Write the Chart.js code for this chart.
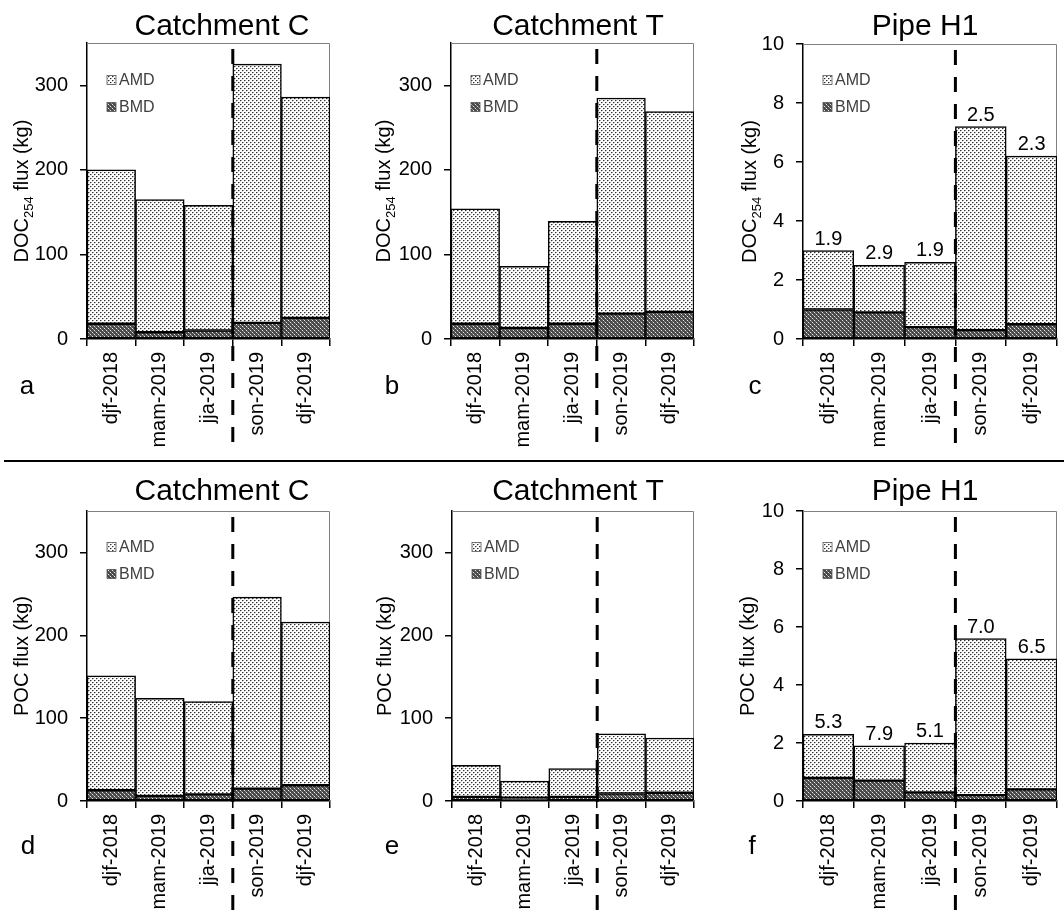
<!DOCTYPE html>
<html>
<head>
<meta charset="utf-8">
<script src="https://cdn.jsdelivr.net/npm/chart.js@4.4.1/dist/chart.umd.min.js"></script>
<style>
  body { margin: 0; background: #fff; }
  #wrap { position: relative; width: 1064px; height: 910px; overflow: hidden; }
  canvas { position: absolute; }
  #sep { position: absolute; left: 4px; top: 460px; width: 1060px; height: 2px; background: #000; }
</style>
</head>
<body>
<div id="wrap">
  <canvas id="pa" width="355" height="460" style="left:0;top:0"></canvas>
  <canvas id="pb" width="355" height="460" style="left:355px;top:0"></canvas>
  <canvas id="pc" width="354" height="460" style="left:710px;top:0"></canvas>
  <div id="sep"></div>
  <canvas id="pd" width="355" height="448" style="left:0;top:462px"></canvas>
  <canvas id="pe" width="355" height="448" style="left:355px;top:462px"></canvas>
  <canvas id="pf" width="354" height="448" style="left:710px;top:462px"></canvas>
</div>
<script>
const seasons = ['djf-2018', 'mam-2019', 'jja-2019', 'son-2019', 'djf-2019'];

// DOC254 flux (kg)
const docC_AMD = [182, 157, 148, 306, 261];
const docC_BMD = [18, 8, 10, 19, 25];
const docT_AMD = [136, 73, 121, 255, 237];
const docT_BMD = [18, 13, 18, 30, 32];
const docP_AMD = [2.0, 1.6, 2.2, 6.9, 5.7];
const docP_BMD = [1.0, 0.9, 0.4, 0.3, 0.5];
const docP_notes = ['1.9', '2.9', '1.9', '2.5', '2.3'];

// POC flux (kg)
const pocC_AMD = [138, 118, 112, 231, 197];
const pocC_BMD = [13, 6, 8, 15, 19];
const pocT_AMD = [38, 20, 34, 72, 66];
const pocT_BMD = [5, 4, 5, 9, 10];
const pocP_AMD = [1.5, 1.2, 1.7, 5.4, 4.5];
const pocP_BMD = [0.8, 0.7, 0.3, 0.2, 0.4];
const pocP_notes = ['5.3', '7.9', '5.1', '7.0', '6.5'];

const catchTicks = [0, 100, 200, 300];
const pipeTicks = [0, 2, 4, 6, 8, 10];

const FONT = '"Liberation Sans", Arial, sans-serif';
Chart.defaults.font.family = FONT;
Chart.defaults.color = '#000';

// dotted fills
function pattern(bg, dots) {
    const c = document.createElement('canvas');
    c.width = 4; c.height = 4;
    const g = c.getContext('2d');
    g.fillStyle = bg; g.fillRect(0, 0, 4, 4);
    dots.forEach(([x, y, col]) => { g.fillStyle = col; g.fillRect(x, y, 1, 1); });
    return g.createPattern(c, 'repeat');
}
const amdFill = pattern('#fff', [[0, 0, '#303030'], [2, 2, '#303030'], [1, 0, '#a0a0a0'], [3, 2, '#a0a0a0'], [0, 1, '#d8d8d8'], [2, 3, '#d8d8d8']]);
const bmdFill = pattern('#4a4a4a', [[0, 0, '#e8e8e8'], [2, 2, '#e8e8e8'], [1, 1, '#8a8a8a'], [3, 3, '#8a8a8a']]);

function yTitle(ctx, cx, cy, kind) {
    const parts = kind === 'doc'
        ? [['DOC', 20, 0], ['254', 13, 5], [' flux (kg)', 20, 0]]
        : [['POC flux (kg)', 20, 0]];
    ctx.save();
    ctx.translate(cx, cy);
    ctx.rotate(-Math.PI / 2);
    ctx.textBaseline = 'alphabetic';
    ctx.textAlign = 'left';
    let w = 0;
    parts.forEach(p => { ctx.font = p[1] + 'px ' + FONT; w += ctx.measureText(p[0]).width; });
    let px = -w / 2;
    parts.forEach(p => {
        ctx.font = p[1] + 'px ' + FONT;
        ctx.fillText(p[0], px, 7 + p[2]);
        px += ctx.measureText(p[0]).width;
    });
    ctx.restore();
}

const decor = {
    id: 'decor',
    beforeDatasetsDraw(chart, args, o) {
        const { ctx, chartArea: a } = chart;
        ctx.save();
        ctx.strokeStyle = '#808080';
        ctx.lineWidth = 1;
        ctx.beginPath();
        ctx.moveTo(a.left, a.top + 0.5);
        ctx.lineTo(a.right - 0.5, a.top + 0.5);
        ctx.lineTo(a.right - 0.5, a.bottom);
        ctx.stroke();
        ctx.restore();
    },
    afterDatasetsDraw(chart, args, o) {
        const { ctx, chartArea: a, scales: { x, y } } = chart;
        ctx.save();

        // split between jja-2019 and son-2019
        const xs = (x.getPixelForValue(2) + x.getPixelForValue(3)) / 2;
        ctx.setLineDash([15, 12]);
        ctx.lineWidth = 3;
        ctx.strokeStyle = '#000';
        ctx.beginPath();
        ctx.moveTo(xs, a.top + 6);
        ctx.lineTo(xs, a.bottom + o.dashTail);
        ctx.stroke();
        ctx.setLineDash([]);

        // numbers over the pipe bars
        if (o.notes) {
            ctx.font = '20px ' + FONT;
            ctx.textAlign = 'center';
            ctx.textBaseline = 'alphabetic';
            ctx.fillStyle = '#000';
            o.notes.forEach((t, i) => {
                const tot = chart.data.datasets.reduce((s, d) => s + d.data[i], 0);
                ctx.fillText(t, x.getPixelForValue(i), y.getPixelForValue(tot) - 6);
            });
        }

        // legend inside the plot
        const sets = chart.data.datasets.slice().reverse();
        ctx.font = '16px ' + FONT;
        ctx.textAlign = 'left';
        ctx.textBaseline = 'middle';
        sets.forEach((d, i) => {
            const bx = a.left + 20, by = a.top + o.legTop + i * 27;
            ctx.fillStyle = d.backgroundColor;
            ctx.fillRect(bx, by - 4.5, 9, 9);
            ctx.strokeStyle = '#555';
            ctx.lineWidth = 0.8;
            ctx.strokeRect(bx, by - 4.5, 9, 9);
            ctx.fillStyle = '#404040';
            ctx.fillText(d.label, bx + 12, by + 1);
        });

        // title, panel letter, y title
        ctx.fillStyle = '#000';
        ctx.textAlign = 'center';
        ctx.textBaseline = 'alphabetic';
        ctx.font = '30px ' + FONT;
        ctx.fillText(o.title, o.titleX, o.titleY);
        ctx.font = '26px ' + FONT;
        ctx.fillText(o.letter, o.letterX, o.letterY);
        yTitle(ctx, o.yTitleX, (a.top + a.bottom) / 2, o.kind);

        ctx.restore();
    }
};

function panel(id, amd, bmd, ticks, yMax, o) {
    return new Chart(id, {
        type: 'bar',
        data: {
            labels: seasons,
            datasets: [
                { label: 'BMD', data: bmd, backgroundColor: bmdFill, borderColor: '#000', borderWidth: 1.5, borderSkipped: false },
                { label: 'AMD', data: amd, backgroundColor: amdFill, borderColor: '#000', borderWidth: 1.5, borderSkipped: false }
            ]
        },
        options: {
            responsive: false,
            animation: false,
            layout: { padding: { left: 0, top: o.top, right: o.right, bottom: 0 } },
            datasets: { bar: { barPercentage: 1, categoryPercentage: 1 } },
            plugins: {
                legend: { display: false },
                tooltip: { enabled: false },
                decor: o
            },
            scales: {
                x: {
                    stacked: true,
                    afterFit: s => { s.height = o.xh; },
                    border: { color: '#000', width: 1.5 },
                    grid: { drawOnChartArea: false, color: '#000', lineWidth: 1.5, tickLength: 7 },
                    ticks: { font: { size: 20 }, minRotation: 90, maxRotation: 90, autoSkip: false, padding: 6 }
                },
                y: {
                    stacked: true,
                    min: 0,
                    max: yMax,
                    afterFit: s => { s.width = o.left; },
                    afterBuildTicks: s => { s.ticks = ticks.map(v => ({ value: v })); },
                    border: { color: '#000', width: 1.5 },
                    grid: { drawOnChartArea: false, color: '#000', lineWidth: 1.5, tickLength: 7 },
                    ticks: { font: { size: 20 }, padding: 12 }
                }
            }
        },
        plugins: [decor]
    });
}

// top row: DOC254
panel('pa', docC_AMD, docC_BMD, catchTicks, 350, {
    left: 87, right: 25, top: 43, xh: 121, dashTail: 105, legTop: 37,
    title: 'Catchment C', titleX: 222, titleY: 35, letter: 'a', letterX: 27, letterY: 394, yTitleX: 21, kind: 'doc'
});
panel('pb', docT_AMD, docT_BMD, catchTicks, 350, {
    left: 96, right: 16, top: 43, xh: 121, dashTail: 105, legTop: 37,
    title: 'Catchment T', titleX: 223, titleY: 35, letter: 'b', letterX: 37, letterY: 394, yTitleX: 28, kind: 'doc'
});
panel('pc', docP_AMD, docP_BMD, pipeTicks, 10, {
    left: 93, right: 7, top: 44, xh: 121, dashTail: 105, legTop: 36, notes: docP_notes,
    title: 'Pipe H1', titleX: 215, titleY: 35, letter: 'c', letterX: 45, letterY: 394, yTitleX: 39, kind: 'doc'
});

// bottom row: POC
panel('pd', pocC_AMD, pocC_BMD, catchTicks, 350, {
    left: 87, right: 25, top: 49, xh: 109, dashTail: 109, legTop: 36,
    title: 'Catchment C', titleX: 222, titleY: 38, letter: 'd', letterX: 28, letterY: 392, yTitleX: 21, kind: 'poc'
});
panel('pe', pocT_AMD, pocT_BMD, catchTicks, 350, {
    left: 97, right: 16, top: 49, xh: 109, dashTail: 109, legTop: 36,
    title: 'Catchment T', titleX: 223, titleY: 38, letter: 'e', letterX: 37, letterY: 392, yTitleX: 29, kind: 'poc'
});
panel('pf', pocP_AMD, pocP_BMD, pipeTicks, 10, {
    left: 93, right: 7, top: 49, xh: 109, dashTail: 109, legTop: 36, notes: pocP_notes,
    title: 'Pipe H1', titleX: 215, titleY: 38, letter: 'f', letterX: 42, letterY: 392, yTitleX: 37, kind: 'poc'
});
</script>
</body>
</html>
